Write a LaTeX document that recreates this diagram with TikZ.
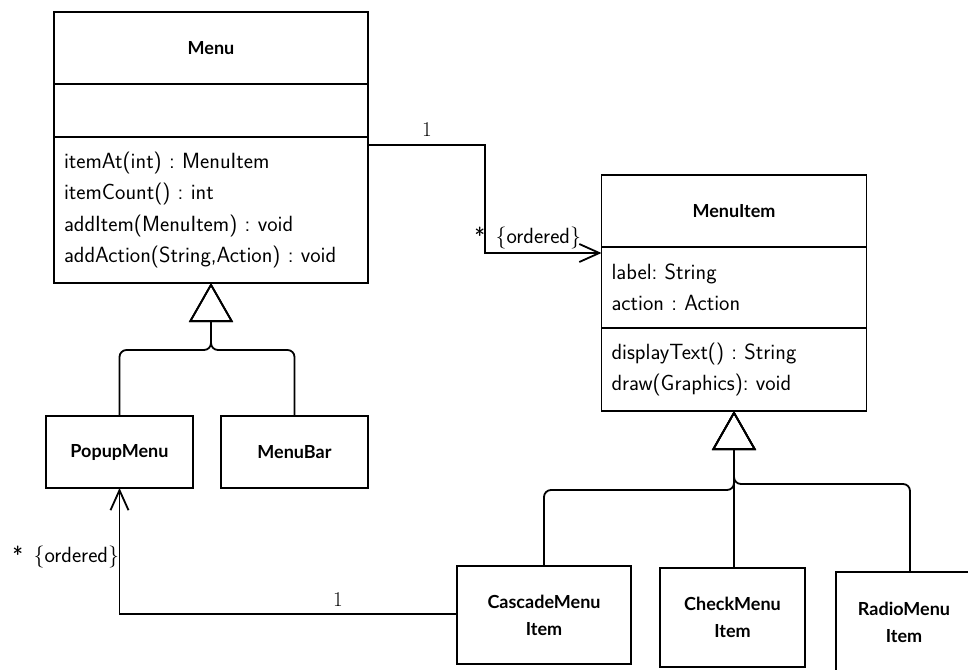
\documentclass[tikz,border=0pt]{standalone}
\usepackage{fontspec}
\newfontfamily\namefont{Lato}
\usetikzlibrary{positioning,arrows.meta}
\frenchspacing

\tikzset{
    classname/.style = {draw, rectangle, inner sep = 0pt, outer sep = 0pt, align = center,
                        font = \namefont\bfseries\fontsize{18}{27}\selectfont},
    compart/.style   = {draw, rectangle, inner xsep = 10pt, inner ysep = 0pt, outer sep = 0pt,
                        align = left, font = \sffamily\fontsize{22}{31.5}\selectfont},
    gen/.style       = {-{Triangle[open, length = 39pt, width = 44pt]}, rounded corners = 7pt},
    assoc/.style     = {-{Straight Barb[length = 20pt, width = 18pt]}},
    mult/.style      = {inner sep = 0pt, font = \sffamily\fontsize{22}{26}\selectfont},
    one/.style       = {inner sep = 0pt, font = \rmfamily\fontsize{21}{25}\selectfont}
}

\begin{document}
\begin{tikzpicture}[line width = 1.8pt,
                    x = 1pt,
                    y = -1pt]

    \useasboundingbox (0,0) rectangle (968,669);

    % Menu
    \node[classname, minimum width = 314pt, minimum height = 72pt] (menu) at (211,48) {Menu};
    \node[compart, text width = 294pt, minimum height = 53pt, below = 0pt of menu] (menuattr) {};
    \node[compart, text width = 294pt, minimum height = 146pt, below = 0pt of menuattr] (menuops)
        {itemAt(int) : MenuItem\\ itemCount() : int\\ addItem(MenuItem) : void\\ addAction(String,Action) : void};

    % MenuItem
    \node[classname, minimum width = 265pt, minimum height = 72pt] (item) at (734,211) {MenuItem};
    \node[compart, text width = 245pt, minimum height = 81pt, below = 0pt of item] (itemattr)
        {label: String\\ action : Action};
    \node[compart, text width = 245pt, minimum height = 83pt, below = 0pt of itemattr] (itemops)
        {displayText() : String\\ draw(Graphics): void};

    % subclasses
    \node[classname, minimum width = 147pt, minimum height = 72pt] (popup)   at (119.5,452) {PopupMenu};
    \node[classname, minimum width = 147pt, minimum height = 72pt] (menubar) at (294.5,452) {MenuBar};
    \node[classname, minimum width = 174pt, minimum height = 98pt] (cascade) at (544,615)   {CascadeMenu\\ Item};
    \node[classname, minimum width = 145pt, minimum height = 99pt] (check)   at (732.5,617.5) {CheckMenu\\ Item};
    \node[classname, minimum width = 136pt, minimum height = 100pt] (radio)  at (904,622)   {RadioMenu\\ Item};

    \coordinate (menujoin)  at (211,350);
    \coordinate (itemjoinL) at (734,490);
    \coordinate (itemjoinR) at (734,484);

    % generalisation
    \foreach \i in {popup, menubar}
    {
        \draw[gen] (\i.north) |- (menujoin) -- (menuops.south);
    }
    \draw[gen] (cascade.north) |- (itemjoinL) -- (itemops.south);
    \draw[gen] ([xshift = 6pt]radio.north) |- (itemjoinR) -- (itemops.south);
    \draw[gen] (itemops.south |- check.north) -- (itemops.south);

    % associations
    \draw[assoc] ([yshift = -8pt]menuops.north east) -- ++(117,0) |- ([yshift = -6pt]itemattr.north west);
    \draw[assoc] (cascade.west |- 0,614) -| (popup.south);

    \node[one]                (menuone)  at (427,130) {1};
    \node[mult, anchor = east] (itemmany) at (582,238) {* \,\{ordered\}};
    \node[one]                (cascone)  at (338,600) {1};
    \node[mult, anchor = east] (popmany)  at (120,557) {* \,\{ordered\}};
\end{tikzpicture}
\end{document}
